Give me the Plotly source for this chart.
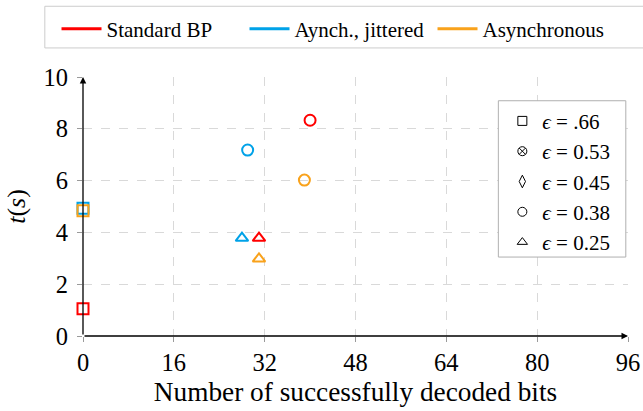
import plotly.graph_objects as go

# ---- data ----
series_names = ["Standard BP", "Aynch., jittered", "Asynchronous"]
series_colors = ["#ff0000", "#00a2e8", "#f9a21b"]

# points per series: (bits, time) for eps = .66 (square), 0.38 (circle), 0.25 (triangle)
std_x = [0, 40, 31]
std_y = [1.05, 8.33, 3.78]
jit_x = [0, 29, 28]
jit_y = [4.93, 7.18, 3.78]
asy_x = [0, 39, 31]
asy_y = [4.84, 6.02, 2.98]
point_symbols = ["square-open", "circle-open", "triangle-up-open"]

eps_labels = ["<i>ϵ</i> = .66", "<i>ϵ</i> = 0.53", "<i>ϵ</i> = 0.45", "<i>ϵ</i> = 0.38", "<i>ϵ</i> = 0.25"]
eps_symbols = ["square-open", "circle-x-open", "diamond-tall-open", "circle-open", "triangle-up-open"]

x_ticks = [0, 16, 32, 48, 64, 80, 96]
y_ticks = [0, 2, 4, 6, 8, 10]

FONT = "Liberation Serif, Times New Roman, serif"
W, H = 643, 411
L, R, T, B = 82.5, 15.3, 77.3, 75.2
PW, PH = W - L - R, H - T - B


def px_x(p):
    return (p - L) / PW


def px_y(p):
    return (H - B - p) / PH


fig = go.Figure()
all_x = [std_x, jit_x, asy_x]
all_y = [std_y, jit_y, asy_y]
for name, col, xs, ys in zip(series_names, series_colors, all_x, all_y):
    fig.add_trace(go.Scatter(x=xs, y=ys, mode="markers", showlegend=False,
                             marker=dict(symbol=point_symbols, size=11, color=col,
                                         line=dict(color=col, width=2)),
                             cliponaxis=False))
    fig.add_trace(go.Scatter(x=[None], y=[None], mode="lines", name=name,
                             line=dict(color=col, width=3), legend="legend"))

for lab, sym in zip(eps_labels, eps_symbols):
    fig.add_trace(go.Scatter(x=[None], y=[None], mode="markers", name=lab,
                             marker=dict(symbol=sym, size=9, color="black",
                                         line=dict(color="black", width=1)),
                             legend="legend2"))

# axis lines with arrows
fig.add_annotation(x=96, y=0, ax=0, ay=0, xref="x", yref="y", axref="x", ayref="y",
                   showarrow=True, arrowhead=2, arrowsize=1, arrowwidth=1.3, arrowcolor="black", text="")
fig.add_annotation(x=0, y=10, ax=0, ay=0, xref="x", yref="y", axref="x", ayref="y",
                   showarrow=True, arrowhead=2, arrowsize=1, arrowwidth=1.3, arrowcolor="black", text="")

# legend frames
fig.add_shape(type="rect", xref="paper", yref="paper",
              x0=px_x(44.3), x1=px_x(660), y0=px_y(48.3), y1=px_y(6.7),
              line=dict(color="#cccccc", width=1), fillcolor="white", layer="below")
fig.add_shape(type="rect", xref="paper", yref="paper",
              x0=px_x(498), x1=px_x(625.5), y0=px_y(257), y1=px_y(101),
              line=dict(color="#b0b0b0", width=1), fillcolor="white", layer="above")

grid = dict(showgrid=True, gridcolor="#d9d9d9", griddash="dash", gridwidth=1,
            zeroline=False, showline=False, ticks="outside", ticklen=5, automargin=False,
            tickcolor="#9a9a9a", tickfont=dict(family=FONT, size=24.5, color="black"))

fig.update_layout(
    width=W, height=H,
    margin=dict(l=L, r=R, t=T, b=B, autoexpand=False),
    paper_bgcolor="white", plot_bgcolor="white",
    font=dict(family=FONT, color="black"),
    xaxis=dict(range=[0, 96], tickvals=x_ticks, ticktext=[str(v) for v in x_ticks],
               title=dict(text="Number of successfully decoded bits", font=dict(family=FONT, size=27.3), standoff=6),
               **grid),
    yaxis=dict(range=[0, 10], tickvals=y_ticks, ticktext=[str(v) for v in y_ticks],
               ticklabelstandoff=4,
               title=dict(text="<i>t</i>(<i>s</i>)", font=dict(family=FONT, size=26), standoff=10),
               **grid),
    legend=dict(orientation="h", x=px_x(56), y=px_y(9), xanchor="left", yanchor="top",
                borderwidth=0, bgcolor="rgba(0,0,0,0)",
                font=dict(family=FONT, size=21), itemwidth=40, entrywidth=133),
    legend2=dict(x=px_x(502), y=px_y(101), xanchor="left", yanchor="top",
                 borderwidth=0, bgcolor="rgba(0,0,0,0)",
                 font=dict(family=FONT, size=21), itemwidth=30),
)

fig.write_html("out.html", post_script="document.body.style.margin='0';",
               config={"displayModeBar": False})
